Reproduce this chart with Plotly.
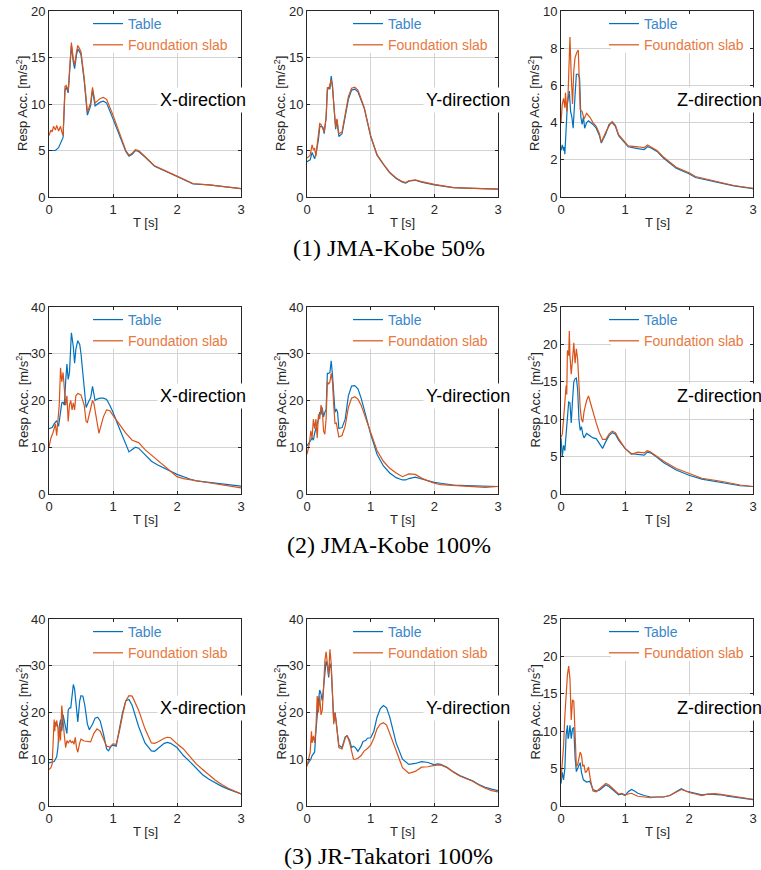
import plotly.graph_objects as go

# Response acceleration spectra: period T [s] vs. response acceleration [m/s^2]
# "TAB" = shaking table, "SLAB" = foundation slab.

# ---------- (1) JMA-Kobe 50% ----------
T_K50_X_TAB = [0, 0.05, 0.1, 0.15, 0.18, 0.2, 0.22, 0.25, 0.27, 0.3, 0.33, 0.35, 0.38, 0.4, 0.43, 0.45, 0.48, 0.5, 0.55, 0.6,
               0.65, 0.68, 0.72, 0.8, 0.85, 0.9, 1.0, 1.1, 1.2, 1.25, 1.3, 1.35, 1.4, 1.5, 1.6, 1.65, 2.0, 2.25, 2.5, 3.0]
A_K50_X_TAB = [5.0, 5.0, 5.0, 5.3, 5.8, 6.1, 6.4, 11.5, 11.8, 11.2, 14.5, 16.3, 14.5, 13.8, 15.3, 15.9, 15.6, 15.3, 12.5, 8.8,
               9.8, 11.5, 9.8, 10.2, 10.3, 10.1, 8.4, 6.6, 4.9, 4.4, 4.6, 5.0, 4.9, 4.3, 3.7, 3.3, 2.2, 1.4, 1.3, 0.9]
T_K50_X_SLAB = [0, 0.03, 0.05, 0.07, 0.1, 0.12, 0.15, 0.18, 0.2, 0.22, 0.25, 0.27, 0.3, 0.33, 0.35, 0.38, 0.4, 0.43, 0.45, 0.48,
                0.5, 0.55, 0.6, 0.65, 0.68, 0.72, 0.8, 0.85, 0.9, 1.0, 1.1, 1.2, 1.25, 1.3, 1.35, 1.4, 1.5, 1.6, 1.65, 2.0,
                2.25, 2.5, 3.0]
A_K50_X_SLAB = [6.6, 7.2, 7.0, 7.6, 7.2, 7.7, 7.1, 7.6, 7.0, 6.6, 11.9, 12.0, 11.4, 14.8, 16.6, 14.8, 14.2, 15.6, 16.3, 15.9,
                15.6, 12.8, 9.1, 10.1, 11.8, 10.1, 10.6, 10.7, 10.5, 8.8, 6.8, 5.0, 4.5, 4.7, 5.1, 5.0, 4.35, 3.75, 3.35, 2.25,
                1.45, 1.3, 0.9]

T_K50_Y_TAB = [0, 0.03, 0.05, 0.08, 0.1, 0.12, 0.15, 0.18, 0.2, 0.22, 0.25, 0.27, 0.3, 0.32, 0.34, 0.36, 0.38, 0.4, 0.42, 0.45,
               0.47, 0.5, 0.55, 0.6, 0.65, 0.7, 0.75, 0.8, 0.9, 1.0, 1.1, 1.2, 1.3, 1.4, 1.5, 1.55, 1.6, 1.7, 1.8, 2.0,
               2.1, 2.3, 2.5, 3.0]
A_K50_Y_TAB = [3.8, 3.9, 4.0, 4.8, 4.5, 4.1, 5.0, 6.2, 7.5, 7.6, 7.5, 6.8, 8.5, 11.5, 11.8, 11.6, 13.0, 12.0, 10.0, 7.3,
               8.3, 6.5, 6.8, 8.5, 10.5, 11.5, 11.6, 11.3, 9.5, 6.5, 4.5, 3.5, 2.6, 2.0, 1.6, 1.5, 1.7, 1.8, 1.6, 1.3,
               1.2, 1.0, 0.95, 0.85]
T_K50_Y_SLAB = [0, 0.03, 0.05, 0.08, 0.1, 0.12, 0.14, 0.16, 0.2, 0.22, 0.25, 0.27, 0.3, 0.32, 0.34, 0.36, 0.38, 0.4, 0.42, 0.45,
                0.47, 0.5, 0.55, 0.6, 0.65, 0.7, 0.75, 0.8, 0.9, 1.0, 1.1, 1.2, 1.3, 1.4, 1.5, 1.55, 1.6, 1.7, 1.8, 2.0,
                2.1, 2.3, 2.5, 3.0]
A_K50_Y_SLAB = [4.2, 4.4, 4.5, 5.6, 5.1, 5.2, 4.4, 5.6, 7.9, 7.8, 7.4, 7.0, 8.5, 11.8, 11.6, 12.3, 12.6, 11.8, 10.0, 7.5,
                8.4, 6.8, 7.0, 8.8, 10.8, 11.7, 11.8, 11.5, 9.6, 6.6, 4.55, 3.55, 2.65, 2.05, 1.65, 1.55, 1.75, 1.85, 1.65, 1.35,
                1.25, 1.0, 0.95, 0.85]

T_K50_Z_TAB = [0, 0.02, 0.04, 0.05, 0.06, 0.08, 0.1, 0.13, 0.15, 0.17, 0.19, 0.22, 0.24, 0.27, 0.29, 0.31, 0.33, 0.35, 0.37, 0.4,
               0.43, 0.5, 0.55, 0.6, 0.63, 0.7, 0.75, 0.8, 0.85, 0.9, 1.0, 1.05, 1.2, 1.3, 1.35, 1.4, 1.5, 1.6, 1.8, 1.9,
               2.0, 2.1, 2.3, 2.5, 2.7, 3.0]
A_K50_Z_TAB = [2.5, 2.8, 2.5, 2.7, 2.3, 3.5, 5.0, 5.7, 4.6, 4.3, 3.7, 5.5, 6.6, 6.6, 6.4, 4.3, 3.9, 4.3, 3.7, 4.0,
               4.1, 3.9, 3.7, 3.3, 2.9, 3.4, 3.9, 4.0, 3.8, 3.3, 2.9, 2.7, 2.6, 2.55, 2.7, 2.65, 2.45, 2.1, 1.55, 1.4,
               1.25, 1.05, 0.9, 0.75, 0.6, 0.45]
T_K50_Z_SLAB = [0, 0.02, 0.04, 0.06, 0.07, 0.09, 0.11, 0.14, 0.16, 0.18, 0.2, 0.22, 0.25, 0.27, 0.3, 0.33, 0.36, 0.4, 0.45, 0.5,
                0.55, 0.6, 0.63, 0.7, 0.78, 0.8, 0.85, 0.9, 1.0, 1.05, 1.2, 1.3, 1.35, 1.4, 1.5, 1.6, 1.8, 1.9, 2.0, 2.1,
                2.3, 2.5, 2.7, 3.0]
A_K50_Z_SLAB = [4.0, 5.0, 5.3, 4.8, 5.6, 4.6, 5.5, 8.6, 6.5, 5.0, 6.8, 7.5, 7.8, 7.9, 4.7, 4.6, 4.2, 4.5, 4.3, 4.0,
                3.8, 3.4, 2.95, 3.5, 4.0, 4.05, 3.85, 3.35, 2.95, 2.75, 2.7, 2.65, 2.8, 2.7, 2.5, 2.15, 1.6, 1.45, 1.3, 1.1,
                0.95, 0.8, 0.62, 0.47]

# ---------- (2) JMA-Kobe 100% ----------
T_K100_X_TAB = [0, 0.05, 0.08, 0.1, 0.12, 0.15, 0.18, 0.2, 0.22, 0.24, 0.26, 0.28, 0.3, 0.32, 0.35, 0.38, 0.4, 0.42, 0.45, 0.48,
                0.5, 0.55, 0.58, 0.62, 0.65, 0.68, 0.72, 0.75, 0.8, 0.85, 0.9, 0.95, 1.0, 1.1, 1.2, 1.25, 1.3, 1.35, 1.4, 1.5,
                1.6, 1.7, 1.8, 2.0, 2.2, 2.3, 2.5, 3.0]
A_K100_X_TAB = [14.0, 14.2, 15.0, 15.5, 15.7, 14.5, 17.5, 19.5, 19.6, 19.0, 24.0, 27.8, 24.5, 26.0, 34.5, 31.5, 28.0, 31.0, 32.8, 32.0,
                30.0, 22.0, 18.5, 19.8, 20.5, 23.0, 20.0, 20.3, 20.5, 20.5, 20.2, 19.0, 17.5, 14.0, 10.5, 9.0, 9.5, 10.0, 9.8, 8.3,
                7.0, 6.2, 5.5, 4.2, 3.2, 2.8, 2.5, 1.7]
T_K100_X_SLAB = [0, 0.03, 0.06, 0.1, 0.12, 0.14, 0.16, 0.18, 0.2, 0.22, 0.24, 0.26, 0.28, 0.3, 0.32, 0.34, 0.36, 0.38, 0.4, 0.42,
                 0.45, 0.5, 0.55, 0.58, 0.6, 0.65, 0.68, 0.7, 0.75, 0.78, 0.8, 0.85, 0.9, 0.95, 1.0, 1.1, 1.2, 1.3, 1.35, 1.4,
                 1.5, 1.6, 1.7, 1.8, 1.9, 2.0, 2.1, 2.3, 2.5, 3.0]
A_K100_X_SLAB = [10.0, 12.0, 13.0, 15.0, 12.5, 17.0, 19.0, 27.0, 24.0, 26.0, 22.0, 19.0, 21.0, 15.5, 19.0, 20.0, 18.0, 19.5, 18.0, 21.0,
                 21.5, 21.2, 19.0, 15.5, 15.3, 18.5, 20.0, 19.5, 15.0, 13.0, 14.0, 16.5, 18.0, 17.8, 16.8, 15.0, 13.0, 11.5, 11.3, 11.0,
                 9.5, 8.3, 7.3, 6.0, 4.7, 3.7, 3.3, 2.8, 2.4, 1.3]

T_K100_Y_TAB = [0, 0.03, 0.06, 0.08, 0.1, 0.12, 0.14, 0.16, 0.18, 0.2, 0.22, 0.24, 0.26, 0.28, 0.3, 0.32, 0.34, 0.36, 0.38, 0.4,
                0.42, 0.44, 0.46, 0.48, 0.5, 0.55, 0.6, 0.65, 0.7, 0.75, 0.8, 0.85, 0.9, 1.0, 1.1, 1.2, 1.3, 1.4, 1.5, 1.55,
                1.6, 1.7, 1.8, 1.9, 2.0, 2.1, 2.3, 2.5, 2.8, 3.0]
A_K100_Y_TAB = [10.3, 10.8, 11.5, 12.0, 11.5, 13.0, 14.0, 14.5, 16.0, 17.5, 17.0, 18.5, 16.5, 17.5, 18.0, 25.8, 25.8, 26.0, 28.5, 25.5,
                20.0, 17.5, 18.2, 17.5, 14.0, 14.2, 16.0, 21.0, 23.1, 23.2, 22.5, 20.5, 18.0, 12.8, 8.5, 6.0, 4.5, 3.5, 3.0, 3.0,
                3.3, 3.6, 3.2, 2.8, 2.5, 2.3, 1.9, 1.8, 1.7, 1.6]
T_K100_Y_SLAB = [0, 0.02, 0.04, 0.06, 0.08, 0.1, 0.12, 0.14, 0.16, 0.18, 0.2, 0.22, 0.24, 0.26, 0.28, 0.3, 0.32, 0.34, 0.36, 0.38,
                 0.4, 0.42, 0.44, 0.46, 0.48, 0.5, 0.55, 0.6, 0.65, 0.7, 0.75, 0.8, 0.85, 0.9, 1.0, 1.1, 1.2, 1.3, 1.4, 1.5,
                 1.55, 1.6, 1.7, 1.8, 1.9, 2.0, 2.1, 2.3, 2.5, 2.8, 3.0]
A_K100_Y_SLAB = [8.5, 9.5, 11.0, 13.5, 12.0, 16.0, 14.0, 16.0, 12.0, 17.0, 16.0, 19.0, 18.0, 13.5, 12.8, 16.0, 24.0, 23.5, 24.0, 25.8,
                 24.0, 19.0, 15.0, 15.2, 13.5, 12.2, 12.5, 14.5, 18.5, 20.5, 20.8, 20.3, 19.0, 17.0, 12.9, 9.3, 7.0, 5.5, 4.5, 3.7,
                 4.0, 4.3, 4.2, 3.4, 2.8, 2.3, 2.0, 1.8, 1.6, 1.4, 1.6]

T_K100_Z_TAB = [0, 0.02, 0.04, 0.06, 0.08, 0.1, 0.12, 0.14, 0.16, 0.18, 0.2, 0.22, 0.24, 0.26, 0.28, 0.3, 0.32, 0.34, 0.36, 0.4,
                0.45, 0.5, 0.55, 0.6, 0.65, 0.7, 0.75, 0.8, 0.85, 0.9, 1.0, 1.1, 1.2, 1.3, 1.35, 1.4, 1.5, 1.6, 1.8, 2.0,
                2.2, 2.5, 2.8, 3.0]
A_K100_Z_TAB = [7.5, 5.0, 6.5, 5.8, 8.0, 10.5, 12.3, 12.2, 9.5, 12.5, 15.0, 15.4, 15.5, 14.0, 10.0, 8.5, 9.0, 8.0, 7.5, 8.1,
                7.8, 7.5, 7.4, 6.8, 6.1, 7.0, 7.8, 8.2, 8.0, 7.2, 6.1, 5.4, 5.3, 5.2, 5.6, 5.5, 4.9, 4.2, 3.2, 2.5,
                2.0, 1.6, 1.1, 1.0]
T_K100_Z_SLAB = [0, 0.02, 0.04, 0.06, 0.08, 0.09, 0.1, 0.12, 0.13, 0.14, 0.16, 0.18, 0.2, 0.22, 0.24, 0.26, 0.28, 0.3, 0.32, 0.34,
                 0.36, 0.4, 0.43, 0.46, 0.5, 0.55, 0.6, 0.65, 0.7, 0.75, 0.8, 0.85, 0.9, 1.0, 1.1, 1.2, 1.3, 1.35, 1.4, 1.5,
                 1.6, 1.8, 2.0, 2.2, 2.5, 2.8, 3.0]
A_K100_Z_SLAB = [7.6, 8.0, 10.0, 13.0, 14.5, 13.3, 19.2, 18.5, 21.8, 18.5, 16.0, 18.0, 20.2, 17.5, 19.4, 18.0, 14.0, 11.5, 10.0, 9.6,
                 11.0, 12.5, 13.1, 12.2, 10.8, 9.5, 8.2, 7.3, 7.3, 8.0, 8.4, 8.2, 7.4, 6.1, 5.3, 5.6, 5.5, 5.8, 5.6, 5.0,
                 4.4, 3.4, 2.7, 2.1, 1.7, 1.2, 1.0]

# ---------- (3) JR-Takatori 100% ----------
T_TK_X_TAB = [0, 0.05, 0.08, 0.1, 0.12, 0.14, 0.16, 0.18, 0.2, 0.22, 0.24, 0.26, 0.28, 0.3, 0.32, 0.34, 0.36, 0.38, 0.4, 0.42,
              0.45, 0.48, 0.5, 0.53, 0.56, 0.6, 0.63, 0.68, 0.72, 0.76, 0.8, 0.85, 0.9, 0.93, 0.97, 1.0, 1.05, 1.1, 1.15, 1.2,
              1.25, 1.3, 1.4, 1.5, 1.6, 1.65, 1.7, 1.8, 1.85, 1.9, 2.0, 2.1, 2.2, 2.3, 2.4, 2.5, 2.6, 2.7, 2.8, 3.0]
A_TK_X_TAB = [9.2, 9.3, 9.5, 10.0, 10.5, 12.5, 17.0, 18.5, 16.0, 19.5, 18.0, 17.0, 15.5, 20.5, 21.0, 21.0, 24.0, 26.0, 25.0, 22.0,
              18.0, 22.5, 23.6, 23.5, 21.5, 17.5, 16.3, 17.5, 18.8, 19.0, 18.2, 15.5, 12.2, 11.8, 12.8, 13.0, 12.8, 16.5, 20.0, 22.5,
              22.8, 21.5, 17.0, 13.5, 11.8, 11.7, 12.3, 13.4, 13.6, 13.4, 12.5, 10.8, 9.5, 8.0, 6.7, 5.7, 4.9, 4.2, 3.6, 2.6]
T_TK_X_SLAB = [0, 0.03, 0.05, 0.06, 0.08, 0.09, 0.1, 0.11, 0.12, 0.14, 0.15, 0.17, 0.18, 0.2, 0.22, 0.24, 0.26, 0.28, 0.3, 0.33,
               0.35, 0.37, 0.39, 0.41, 0.43, 0.45, 0.48, 0.5, 0.55, 0.6, 0.65, 0.7, 0.75, 0.8, 0.85, 0.9, 0.95, 1.0, 1.05, 1.1,
               1.15, 1.2, 1.25, 1.3, 1.4, 1.5, 1.6, 1.65, 1.7, 1.8, 1.85, 1.9, 2.0, 2.1, 2.2, 2.3, 2.4, 2.5, 2.6, 2.7,
               2.8, 3.0]
A_TK_X_SLAB = [7.8, 8.2, 9.0, 13.0, 18.5, 16.0, 18.0, 17.0, 18.3, 16.5, 13.5, 17.0, 14.0, 21.5, 17.0, 15.0, 12.5, 14.0, 13.5, 14.1,
               13.5, 13.9, 13.2, 14.7, 12.5, 11.5, 13.5, 14.3, 13.9, 13.8, 13.7, 15.5, 16.5, 16.0, 14.5, 12.8, 12.6, 13.3, 13.2, 16.0,
               19.5, 22.5, 23.6, 23.5, 20.5, 16.5, 13.5, 13.4, 13.7, 14.5, 14.7, 14.6, 13.3, 12.2, 10.6, 9.0, 7.8, 6.6, 5.5, 4.6,
               3.8, 2.6]

T_TK_Y_TAB = [0, 0.03, 0.06, 0.08, 0.1, 0.12, 0.14, 0.16, 0.18, 0.2, 0.22, 0.24, 0.26, 0.28, 0.3, 0.32, 0.34, 0.36, 0.38, 0.4,
              0.42, 0.44, 0.46, 0.5, 0.55, 0.6, 0.63, 0.67, 0.7, 0.73, 0.76, 0.8, 0.85, 0.88, 0.92, 0.95, 1.0, 1.05, 1.1, 1.15,
              1.2, 1.25, 1.3, 1.4, 1.5, 1.6, 1.7, 1.8, 1.9, 2.0, 2.05, 2.1, 2.2, 2.3, 2.4, 2.5, 2.6, 2.7, 2.8, 2.9,
              3.0]
A_TK_Y_TAB = [8.8, 9.3, 10.0, 10.8, 11.2, 11.5, 16.0, 20.0, 22.5, 24.8, 24.0, 22.5, 26.0, 29.0, 31.0, 30.0, 27.5, 30.5, 29.5, 24.0,
              18.0, 20.0, 18.0, 13.0, 12.5, 14.8, 15.0, 14.0, 12.5, 12.8, 12.5, 11.7, 12.8, 13.8, 14.0, 14.5, 14.6, 16.0, 19.0, 20.8,
              21.5, 21.0, 19.0, 13.5, 10.0, 8.9, 9.1, 9.5, 9.3, 8.8, 9.0, 8.9, 8.3, 7.3, 6.5, 6.0, 5.4, 4.6, 4.0, 3.6,
              3.3]
T_TK_Y_SLAB = [0, 0.03, 0.05, 0.07, 0.08, 0.1, 0.12, 0.14, 0.16, 0.18, 0.2, 0.22, 0.24, 0.26, 0.28, 0.3, 0.32, 0.34, 0.36, 0.38,
               0.4, 0.42, 0.44, 0.46, 0.5, 0.55, 0.6, 0.63, 0.67, 0.7, 0.73, 0.76, 0.8, 0.85, 0.9, 0.95, 1.0, 1.05, 1.1, 1.15,
               1.2, 1.25, 1.3, 1.4, 1.5, 1.6, 1.7, 1.8, 1.9, 2.0, 2.05, 2.1, 2.2, 2.3, 2.4, 2.5, 2.6, 2.7, 2.8, 2.9,
               3.0]
A_TK_Y_SLAB = [8.5, 10.5, 11.5, 16.0, 13.5, 15.0, 13.5, 16.5, 23.5, 20.0, 23.5, 19.5, 20.5, 25.0, 31.0, 33.0, 30.0, 28.0, 33.5, 30.5,
               24.0, 17.5, 20.0, 18.0, 12.5, 12.2, 14.5, 15.1, 13.5, 11.5, 10.0, 10.0, 10.2, 10.8, 11.8, 12.3, 13.0, 14.5, 16.5, 17.5,
               17.8, 17.3, 15.5, 11.5, 8.2, 7.0, 7.4, 8.3, 8.4, 8.7, 8.8, 8.8, 8.2, 7.2, 6.4, 5.9, 5.3, 4.5, 3.8, 3.3,
               3.0]

T_TK_Z_TAB = [0, 0.02, 0.04, 0.06, 0.08, 0.1, 0.11, 0.12, 0.14, 0.16, 0.18, 0.2, 0.22, 0.24, 0.26, 0.28, 0.3, 0.32, 0.35, 0.4,
              0.45, 0.5, 0.55, 0.6, 0.65, 0.7, 0.75, 0.8, 0.85, 0.9, 0.95, 1.0, 1.05, 1.1, 1.15, 1.2, 1.3, 1.4, 1.5, 1.6,
              1.7, 1.8, 1.88, 1.95, 2.0, 2.1, 2.2, 2.3, 2.4, 2.5, 2.6, 2.8, 3.0]
A_TK_Z_TAB = [3.0, 4.5, 3.5, 5.0, 9.5, 10.8, 9.0, 9.2, 10.8, 9.0, 10.3, 10.5, 6.5, 4.6, 5.0, 5.5, 5.8, 4.5, 3.5, 3.2,
              3.3, 2.2, 2.0, 2.1, 2.5, 2.8, 2.6, 2.2, 1.8, 1.5, 1.6, 1.4, 1.9, 2.2, 2.0, 1.7, 1.4, 1.2, 1.2, 1.2,
              1.4, 1.9, 2.3, 2.0, 1.9, 1.7, 1.5, 1.6, 1.6, 1.5, 1.3, 1.1, 0.85]
T_TK_Z_SLAB = [0, 0.02, 0.04, 0.06, 0.08, 0.1, 0.12, 0.14, 0.16, 0.18, 0.2, 0.22, 0.24, 0.26, 0.28, 0.3, 0.32, 0.34, 0.36, 0.38,
               0.4, 0.43, 0.46, 0.5, 0.55, 0.6, 0.65, 0.7, 0.75, 0.8, 0.85, 0.9, 0.95, 1.0, 1.05, 1.1, 1.15, 1.2, 1.3, 1.4,
               1.5, 1.6, 1.7, 1.8, 1.88, 1.95, 2.0, 2.1, 2.2, 2.3, 2.4, 2.5, 2.6, 2.8, 3.0]
A_TK_Z_SLAB = [3.5, 5.5, 8.0, 12.0, 15.5, 17.5, 18.7, 17.0, 11.5, 14.2, 14.0, 9.5, 5.3, 5.5, 6.5, 7.2, 6.8, 5.3, 5.5, 4.5,
               4.6, 5.2, 3.5, 2.0, 1.9, 2.3, 2.7, 3.0, 2.8, 2.4, 1.9, 1.6, 1.7, 1.5, 1.6, 1.7, 1.5, 1.3, 1.2, 1.1,
               1.2, 1.2, 1.4, 1.9, 2.2, 2.0, 1.8, 1.6, 1.4, 1.6, 1.65, 1.55, 1.4, 1.2, 0.9]

CASES = ["(1) JMA-Kobe 50%", "(2) JMA-Kobe 100%", "(3) JR-Takatori 100%"]
DIRECTIONS = ["X-direction", "Y-direction", "Z-direction"]
SERIES_NAMES = ["Table", "Foundation slab"]
Y_MAX = [[20, 20, 10], [40, 40, 25], [40, 40, 25]]
Y_DTICK = [[5, 5, 2], [10, 10, 5], [10, 10, 5]]
X_MAX = 3
X_TICKS = [0, 1, 2, 3]

SPECTRA = [
    [(T_K50_X_TAB, A_K50_X_TAB, T_K50_X_SLAB, A_K50_X_SLAB),
     (T_K50_Y_TAB, A_K50_Y_TAB, T_K50_Y_SLAB, A_K50_Y_SLAB),
     (T_K50_Z_TAB, A_K50_Z_TAB, T_K50_Z_SLAB, A_K50_Z_SLAB)],
    [(T_K100_X_TAB, A_K100_X_TAB, T_K100_X_SLAB, A_K100_X_SLAB),
     (T_K100_Y_TAB, A_K100_Y_TAB, T_K100_Y_SLAB, A_K100_Y_SLAB),
     (T_K100_Z_TAB, A_K100_Z_TAB, T_K100_Z_SLAB, A_K100_Z_SLAB)],
    [(T_TK_X_TAB, A_TK_X_TAB, T_TK_X_SLAB, A_TK_X_SLAB),
     (T_TK_Y_TAB, A_TK_Y_TAB, T_TK_Y_SLAB, A_TK_Y_SLAB),
     (T_TK_Z_TAB, A_TK_Z_TAB, T_TK_Z_SLAB, A_TK_Z_SLAB)],
]

# ---------- layout (pixels) ----------
W, H = 761, 870
FONT = "Liberation Sans, Arial, Helvetica, sans-serif"
SERIF = "Liberation Serif, Times New Roman, serif"
BLUE, ORANGE = "#0072BD", "#D95319"
BLUE_TXT, ORANGE_TXT = "#3a86c9", "#e8793f"
INK = "#262626"
GRID = "#d3d3d3"

COLS = [(49, 241), (307, 498), (561, 753)]          # plot-area left/right
ROWS = [(11, 197), (307, 494), (619, 806)]          # plot-area top/bottom
LEGEND_X = [88, 348, 604]
LEGEND_DY = -3          # legend block top relative to the plot-area top
LEGEND_PANEL_H = 42     # height of the white patch that hides the grid behind the legend
LABEL_X = [157, 423, 674]
LABEL_DY = 89
CAPTION_X = 389
CAPTION_Y = [248, 545, 856]


def px(x):
    return x / W


def py(y):
    return 1 - y / H


fig = go.Figure()
layout = {}
annotations = []
shapes = []

for r in range(3):
    top, bottom = ROWS[r]
    for c in range(3):
        left, right = COLS[c]
        idx = r * 3 + c + 1
        sfx = "" if idx == 1 else str(idx)
        xa, ya, lg = "x" + sfx, "y" + sfx, "legend" + sfx
        t_tab, a_tab, t_slab, a_slab = SPECTRA[r][c]
        assert len(t_tab) == len(a_tab) and len(t_slab) == len(a_slab)
        ymax = Y_MAX[r][c]

        fig.add_trace(go.Scatter(
            x=t_tab, y=a_tab, mode="lines", xaxis=xa, yaxis=ya, legend=lg,
            line=dict(color=BLUE, width=1.2),
            name=f'<span style="color:{BLUE_TXT}">{SERIES_NAMES[0]}</span>'))
        fig.add_trace(go.Scatter(
            x=t_slab, y=a_slab, mode="lines", xaxis=xa, yaxis=ya, legend=lg,
            line=dict(color=ORANGE, width=1.2),
            name=f'<span style="color:{ORANGE_TXT}">{SERIES_NAMES[1]}</span>'))

        axis_common = dict(
            showline=True, linecolor=INK, linewidth=1, mirror="ticks",
            ticks="inside", ticklen=3, tickcolor=INK, tickwidth=1,
            showgrid=True, gridcolor=GRID, gridwidth=1, zeroline=False,
            tickfont=dict(family=FONT, size=13, color=INK), automargin=False,
            fixedrange=True,
        )
        layout["xaxis" + sfx] = dict(
            axis_common, domain=[px(left), px(right)], anchor=ya,
            range=[0, X_MAX], tickvals=X_TICKS)
        layout["yaxis" + sfx] = dict(
            axis_common, domain=[py(bottom), py(top)], anchor=xa,
            range=[0, ymax], dtick=Y_DTICK[r][c], tick0=0)

        layout[lg] = dict(
            x=px(LEGEND_X[c]), y=py(top + LEGEND_DY), xanchor="left", yanchor="top",
            bgcolor="rgba(0,0,0,0)", borderwidth=0, itemwidth=30, tracegroupgap=0,
            font=dict(family=FONT, size=14), itemclick=False, itemdoubleclick=False)

        # white patch behind the legend: hides grid lines, stays under traces and axis lines
        shapes.append(dict(
            type="rect", layer="between", line=dict(width=0), fillcolor="white",
            xref=xa, yref=ya,
            x0=X_MAX * (LEGEND_X[c] + 7 - left) / (right - left), x1=X_MAX,
            y0=ymax * (1 - LEGEND_PANEL_H / (bottom - top)), y1=ymax))

        # axis titles
        annotations.append(dict(
            text="Resp Acc. [m/s<sup>2</sup>]", textangle=-90, showarrow=False,
            xref="paper", yref="paper", x=px(left - 27), y=py((top + bottom) / 2),
            xanchor="center", yanchor="middle",
            font=dict(family=FONT, size=13, color=INK)))
        annotations.append(dict(
            text="T [s]", showarrow=False, xref="paper", yref="paper",
            x=px((left + right) / 2), y=py(bottom + 25),
            xanchor="center", yanchor="middle",
            font=dict(family=FONT, size=13, color=INK)))

        # direction label on a white box
        annotations.append(dict(
            text=DIRECTIONS[c], showarrow=False, xref="paper", yref="paper",
            x=px(LABEL_X[c]), y=py(top + LABEL_DY), xanchor="left", yanchor="middle",
            bgcolor="white", borderpad=2,
            font=dict(family=FONT, size=18, color="black")))

    annotations.append(dict(
        text=CASES[r], showarrow=False, xref="paper", yref="paper",
        x=px(CAPTION_X), y=py(CAPTION_Y[r]), xanchor="center", yanchor="middle",
        font=dict(family=SERIF, size=24, color="black")))

fig.update_layout(
    width=W, height=H, autosize=False,
    margin=dict(l=0, r=0, t=0, b=0, pad=0),
    paper_bgcolor="white", plot_bgcolor="white",
    font=dict(family=FONT, color=INK),
    showlegend=True,
    annotations=annotations,
    shapes=shapes,
    **layout,
)

fig.write_html("out.html")
